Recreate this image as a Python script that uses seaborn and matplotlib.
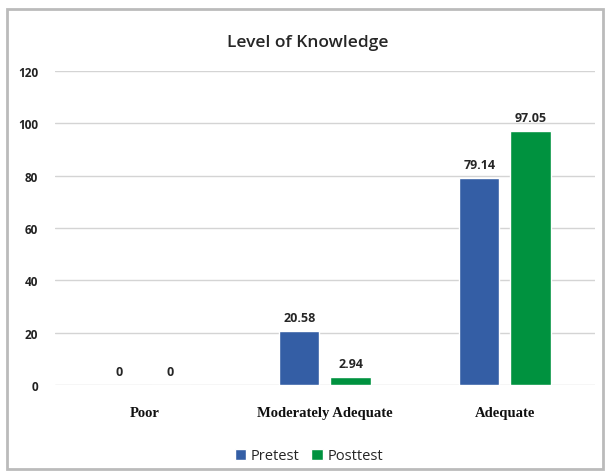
import pandas as pd
import matplotlib.pyplot as plt
import seaborn as sns
from matplotlib.patches import Rectangle

# chart values
levels = ['Poor', 'Moderately Adequate', 'Adequate']
pretest = [0, 20.58, 79.14]
posttest = [0, 2.94, 97.05]
tests = ['Pretest', 'Posttest']
yticks = [0, 20, 40, 60, 80, 100, 120]

df = pd.DataFrame({
    'Level': levels * 2,
    'Score': pretest + posttest,
    'Test': [tests[0]] * 3 + [tests[1]] * 3,
})

sns.set_theme(style='white')
plt.rcParams['font.family'] = ['Open Sans', 'DejaVu Sans']

fig = plt.figure(figsize=(6.08, 4.77), dpi=100)
ax = fig.add_axes([0.0905, 0.191, 0.888, 0.658])

sns.barplot(data=df, x='Level', y='Score', hue='Test', order=levels, hue_order=tests,
            palette=['#345EA5', '#00923F'], saturation=1, width=0.568, gap=0.215,
            ax=ax, legend=True)

ax.set_ylim(0, 120)
ax.set_yticks(yticks)
ax.set_yticklabels([str(t) for t in yticks], fontsize=8.5, fontweight='bold', color='#222222')
ax.yaxis.grid(True, color='#D4D4D4', linewidth=1)
ax.set_axisbelow(True)
ax.tick_params(axis='y', length=0, pad=12)
ax.tick_params(axis='x', length=0, pad=15)
for s in ax.spines.values():
    s.set_visible(False)
ax.set_xlabel('')
ax.set_ylabel('')
for lbl in ax.get_xticklabels():
    lbl.set_fontfamily('Liberation Serif')
    lbl.set_fontweight('bold')
    lbl.set_fontsize(10.5)
    lbl.set_color('#111111')

for c in ax.containers:
    ax.bar_label(c, labels=[f'{v:g}' for v in c.datavalues], padding=5,
                 fontsize=9, fontweight='bold', color='#262626')

ax.legend(loc='upper center', bbox_to_anchor=(0.47, -0.16), ncol=2, frameon=False,
          fontsize=10.5, handlelength=0.8, handleheight=0.8, handletextpad=0.3,
          columnspacing=0.8)

fig.text(0.506, 0.91, 'Level of Knowledge', ha='center', va='center', fontsize=12.5,
         fontweight='semibold', color='#262626')

# outer frame
fig.patches.append(Rectangle((0.012, 0.015), 0.98, 0.965, transform=fig.transFigure,
                             fill=False, edgecolor='#BBBBBB', linewidth=2))

fig.savefig('out.png', dpi=100)
